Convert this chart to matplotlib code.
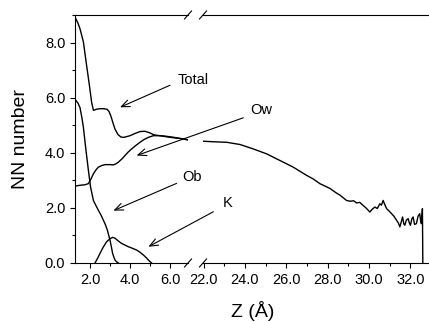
import matplotlib
matplotlib.use("Agg")
import matplotlib.pyplot as plt
from matplotlib.ticker import MultipleLocator

plt.rcParams['font.family'] = ['Liberation Sans', 'DejaVu Sans']

# left part of the z axis (Angstrom)
z_total = [1.25, 1.4, 1.5, 1.67, 1.83, 1.97, 2.08, 2.17, 2.33, 2.5, 2.67, 2.85, 2.95, 3.05,
           3.15, 3.25, 3.4, 3.55, 3.7, 3.85, 4.0, 4.25, 4.5, 4.75, 5.0, 5.2, 5.5, 5.8, 6.2, 6.5, 6.9]
nn_total = [8.92, 8.7, 8.5, 8.02, 7.17, 6.45, 5.84, 5.54, 5.58, 5.6, 5.6, 5.58, 5.5, 5.32,
            5.08, 4.86, 4.66, 4.57, 4.56, 4.59, 4.62, 4.7, 4.77, 4.78, 4.72, 4.65, 4.62, 4.6, 4.56, 4.52, 4.47]

z_ow = [1.25, 1.5, 1.75, 1.92, 2.05, 2.17, 2.3, 2.42, 2.6, 2.75, 3.0, 3.17, 3.3, 3.42, 3.6,
        3.75, 3.9, 4.08, 4.3, 4.5, 4.7, 4.92, 5.17, 5.5, 6.0, 6.5, 6.9]
nn_ow = [2.79, 2.82, 2.84, 2.88, 3.05, 3.24, 3.38, 3.48, 3.54, 3.57, 3.57, 3.56, 3.6, 3.66, 3.78,
         3.9, 4.02, 4.14, 4.27, 4.38, 4.48, 4.56, 4.62, 4.62, 4.56, 4.52, 4.47]

z_ob = [1.25, 1.4, 1.5, 1.6, 1.67, 1.8, 1.92, 2.03, 2.17, 2.3, 2.42, 2.55, 2.67, 2.77, 2.87,
        3.0, 3.07, 3.13, 3.2, 3.25, 3.33, 3.42]
nn_ob = [5.94, 5.8, 5.64, 5.25, 4.92, 4.08, 3.36, 2.75, 2.27, 2.08, 1.91, 1.74, 1.55, 1.39, 1.19,
         0.83, 0.58, 0.35, 0.2, 0.11, 0.04, 0.0]

z_k = [2.25, 2.4, 2.5, 2.65, 2.83, 3.0, 3.13, 3.25, 3.33, 3.45, 3.58, 3.75, 3.92, 4.1, 4.33,
       4.5, 4.67, 4.8, 4.92, 5.0, 5.08]
nn_k = [0.0, 0.2, 0.35, 0.56, 0.77, 0.88, 0.93, 0.9, 0.85, 0.78, 0.71, 0.65, 0.59, 0.54, 0.47,
        0.39, 0.29, 0.2, 0.11, 0.05, 0.0]

# right part of the z axis
z_far = [21.96, 22.47, 23.12, 23.76, 24.4, 25.05, 25.69, 26.33, 26.98, 27.3, 27.62, 27.9, 28.12,
         28.4, 28.6, 28.91, 29.1, 29.25, 29.4, 29.55, 29.71, 29.85, 30.04, 30.15, 30.28, 30.4,
         30.52, 30.6, 30.68, 30.76, 30.85, 30.95, 31.09, 31.2, 31.33, 31.42, 31.49, 31.56, 31.62,
         31.68, 31.73, 31.8, 31.89, 31.95, 32.0, 32.07, 32.13, 32.2, 32.29, 32.37, 32.45, 32.5,
         32.53, 32.58, 32.6]
nn_far = [4.42, 4.40, 4.38, 4.30, 4.14, 3.96, 3.72, 3.48, 3.18, 3.05, 2.88, 2.78, 2.70,
          2.55, 2.46, 2.27, 2.24, 2.26, 2.18, 2.2, 2.09, 2.0, 1.85, 1.95, 2.03, 1.98,
          2.15, 2.1, 2.27, 2.12, 1.97, 1.9, 1.79, 1.7, 1.55, 1.45, 1.31, 1.5, 1.67,
          1.42, 1.37, 1.55, 1.61, 1.45, 1.37, 1.6, 1.67, 1.4, 1.43, 1.7, 1.79, 1.5,
          1.43, 1.97, 0.0]

fig = plt.figure(figsize=(4.29, 3.22), dpi=100)
W, H = 429.0, 322.0
ax1 = fig.add_axes([75 / W, 1 - 263 / H, 113 / W, 248 / H])
ax2 = fig.add_axes([203 / W, 1 - 263 / H, 225 / W, 248 / H], sharey=ax1)
ax1.patch.set_visible(False)
ax2.patch.set_visible(False)

lw = 1.0
ax1.plot(z_total, nn_total, color='black', lw=lw)
ax1.plot(z_ow, nn_ow, color='black', lw=lw)
ax1.plot(z_ob, nn_ob, color='black', lw=lw)
ax1.plot(z_k, nn_k, color='black', lw=lw)
ax2.plot(z_far, nn_far, color='black', lw=lw)

ax1.set_xlim(1.25, 6.9)
ax2.set_xlim(21.97, 32.85)
ax1.set_ylim(0, 9.0)

for ax in (ax1, ax2):
    for s in ax.spines.values():
        s.set_linewidth(0.8)
    ax.tick_params(which='major', length=3.5, width=0.8, labelsize=10.5, direction='out')
    ax.tick_params(which='minor', length=2, width=0.8, direction='out')
    ax.xaxis.set_major_locator(MultipleLocator(2))
    ax.xaxis.set_minor_locator(MultipleLocator(1))
    ax.xaxis.set_major_formatter(plt.FormatStrFormatter('%.1f'))

ax1.spines['right'].set_visible(False)
ax2.spines['left'].set_visible(False)
ax2.spines['right'].set_visible(False)
ax2.tick_params(axis='y', which='both', left=False, labelleft=False)
ax1.yaxis.set_major_locator(MultipleLocator(2))
ax1.yaxis.set_minor_locator(MultipleLocator(1))
ax1.yaxis.set_major_formatter(plt.FormatStrFormatter('%.1f'))

# break marks
kw = dict(color='black', lw=0.8, clip_on=False)
d1, d2, dy = 3.5 / 113, 3.5 / 225, 4 / 248
for yy in (0, 1):
    ax1.plot([1 - d1, 1 + d1], [yy - dy, yy + dy], transform=ax1.transAxes, **kw)
    ax2.plot([-d2, d2], [yy - dy, yy + dy], transform=ax2.transAxes, **kw)

# labels and arrows
arr = dict(arrowstyle='->,head_length=0.6,head_width=0.25', color='black', lw=0.8,
           shrinkA=0, shrinkB=0)
ax1.annotate('', xy=(3.5, 5.65), xytext=(6.0, 6.45), arrowprops=arr)
ax1.text(6.4, 6.63, 'Total', fontsize=10.5, va='center', ha='left', zorder=10)
ax1.annotate('', xy=(3.17, 1.9), xytext=(6.33, 2.89), arrowprops=arr)
ax1.text(6.6, 3.12, 'Ob', fontsize=10.5, va='center', ha='left', zorder=10)
ax2.annotate('', xy=(4.33, 3.9), xycoords=ax1.transData, xytext=(23.92, 5.27),
             textcoords=ax2.transData, arrowprops=arr)
ax2.text(24.24, 5.54, 'Ow', fontsize=10.5, va='center', ha='left')
ax2.annotate('', xy=(4.92, 0.59), xycoords=ax1.transData, xytext=(22.47, 1.86),
             textcoords=ax2.transData, arrowprops=arr)
ax2.text(22.92, 2.16, 'K', fontsize=10.5, va='center', ha='left')

fig.text(21 / W, 1 - 139 / H, 'NN number', fontsize=14, rotation=90, va='center', ha='center')
fig.text(253 / W, 1 - 311 / H, 'Z (Å)', fontsize=14, va='center', ha='center')

fig.savefig('out.png', dpi=100)
